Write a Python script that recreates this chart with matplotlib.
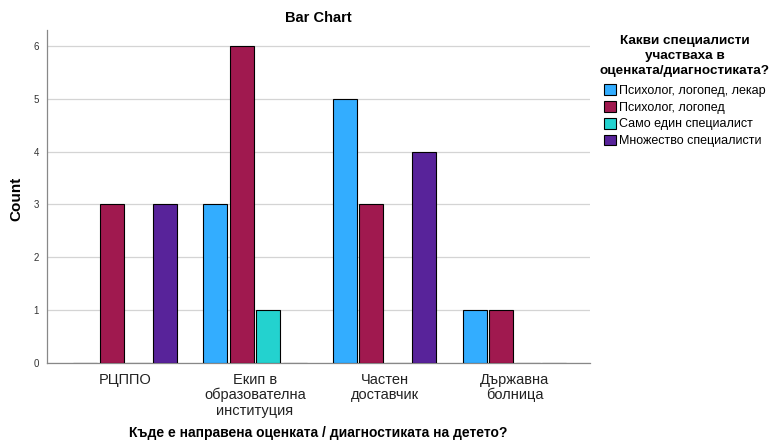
import matplotlib
matplotlib.use('Agg')
import matplotlib.pyplot as plt
import numpy as np

plt.rcParams['font.family'] = ['Liberation Sans', 'DejaVu Sans']

# Categories on the x axis and the four series
categories = ['РЦППО', 'Екип в\nобразователна\nинституция', 'Частен\nдоставчик', 'Държавна\nболница']
series_names = ['Психолог, логопед, лекар', 'Психолог, логопед',
                'Само един специалист', 'Множество специалисти']
counts_doctor = [0, 3, 5, 1]
counts_logoped = [3, 6, 3, 1]
counts_single = [0, 1, 0, 0]
counts_many = [3, 0, 4, 0]

colors = ['#33ADFF', '#A0194F', '#23D2CF', '#58239A']

fig = plt.figure(figsize=(7.72, 4.43), dpi=100)
ax = fig.add_axes([0.061, 0.181, 0.703, 0.751])

x = np.arange(len(categories))
slot = 0.204
width = 0.185
all_series = [counts_doctor, counts_logoped, counts_single, counts_many]
for i, (vals, name, col) in enumerate(zip(all_series, series_names, colors)):
    ax.bar(x + (i - 1.5) * slot, vals, width=width, color=col,
           edgecolor='black', linewidth=0.8, label=name, zorder=3)

ax.set_xlim(-0.6, 3.58)
ax.set_ylim(0, 6.3)
ax.set_yticks(range(0, 7))
ax.yaxis.grid(True, color='#d4d4d4', linewidth=0.9, zorder=0)
ax.set_xticks(x)
ax.set_xticklabels(categories, fontsize=10.5, color='#222222', linespacing=1.12)
ax.tick_params(axis='x', length=0, pad=7)
ax.tick_params(axis='y', length=0, labelsize=7, colors='#333333', pad=6)

for s in ['top', 'right']:
    ax.spines[s].set_visible(False)
for s in ['left', 'bottom']:
    ax.spines[s].set_color('#888888')
    ax.spines[s].set_linewidth(0.9)

ax.set_title('Bar Chart', fontsize=10.5, fontweight='bold', pad=6)
fig.text(0.021, 0.55, 'Count', rotation=90, ha='center', va='center',
         fontsize=11, fontweight='bold')
fig.text(0.412, 0.023, 'Къде е направена оценката / диагностиката на детето?',
         ha='center', va='center', fontsize=10, fontweight='bold')

leg = fig.legend(loc='upper left', bbox_to_anchor=(0.777, 0.92), frameon=False,
                 title='Какви специалисти\nучастваха в\nоценката/диагностиката?',
                 fontsize=9.0, title_fontsize=9.7, handlelength=0.95, handleheight=0.95,
                 handletextpad=0.2, labelspacing=0.33, borderaxespad=0, borderpad=0)
leg.get_title().set_fontweight('bold')
leg.get_title().set_multialignment('center')
leg.get_title().set_linespacing(1.32)
leg._legend_box.align = 'center'
leg._legend_box.sep = 5

fig.savefig('out.png', dpi=100)
